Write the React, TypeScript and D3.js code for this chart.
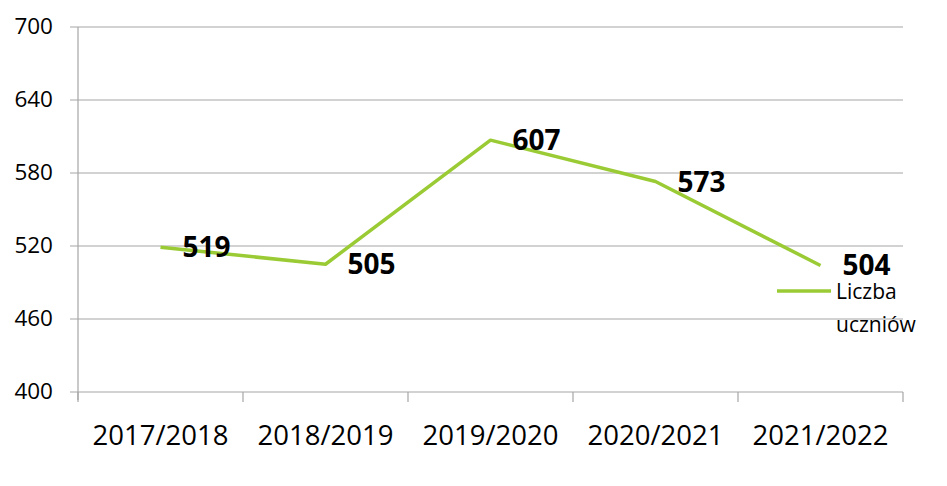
import React from "react";
import * as d3 from "d3";

const categories = ["2017/2018", "2018/2019", "2019/2020", "2020/2021", "2021/2022"];
const values = [519, 505, 607, 573, 504];
const yTicks = [400, 460, 520, 580, 640, 700];
const seriesName = ["Liczba", "uczniów"];

const W = 947;
const H = 486;
const left = 78;
const right = 903;
const top = 27;
const bottom = 392;
const FONT = "'Open Sans', sans-serif";
const GREEN = "#9ACB34";
const GRID = "#A6A6A6";

export default function App() {
  const x = d3.scaleBand<string>().domain(categories).range([left, right]).padding(0);
  const y = d3.scaleLinear().domain([400, 700]).range([bottom, top]);
  const cx = (c: string) => (x(c) as number) + x.bandwidth() / 2;
  const line = d3
    .line<number>()
    .x((_, i) => cx(categories[i]))
    .y((d) => y(d));
  const boundaries = categories.map((c) => x(c) as number).concat([right]);

  return (
    <svg width={W} height={H} style={{ position: "absolute", left: 0, top: 0, background: "#fff" }}>
      {yTicks.map((t) => (
        <g key={t}>
          <line x1={left - 8} x2={right} y1={y(t)} y2={y(t)} stroke={GRID} strokeWidth={1.2} />
          <text x={53} y={y(t) + 7} textAnchor="end" fontFamily={FONT} fontSize={22.5} fill="#000">
            {t}
          </text>
        </g>
      ))}
      <line x1={left} x2={left} y1={top} y2={bottom + 8} stroke={GRID} strokeWidth={1.2} />
      {boundaries.map((b, i) => (
        <line key={i} x1={b} x2={b} y1={bottom} y2={bottom + 10} stroke={GRID} strokeWidth={1.2} />
      ))}
      {categories.map((c) => (
        <text key={c} x={cx(c)} y={445} textAnchor="middle" fontFamily={FONT} fontSize={27.5} fill="#000">
          {c}
        </text>
      ))}
      <path d={line(values) || ""} fill="none" stroke={GREEN} strokeWidth={3.5} strokeLinejoin="round" />
      {values.map((v, i) => (
        <text
          key={i}
          x={cx(categories[i]) + 22}
          y={y(v) + 10}
          fontFamily={FONT}
          fontWeight="bold"
          fontSize={28}
          fill="#000"
        >
          {v}
        </text>
      ))}
      <line x1={777} x2={831} y1={291} y2={291} stroke={GREEN} strokeWidth={3.5} />
      <text fontFamily={FONT} fontSize={21} fill="#000">
        <tspan x={836} y={299}>{seriesName[0]}</tspan>
        <tspan x={836} y={332}>{seriesName[1]}</tspan>
      </text>
    </svg>
  );
}
